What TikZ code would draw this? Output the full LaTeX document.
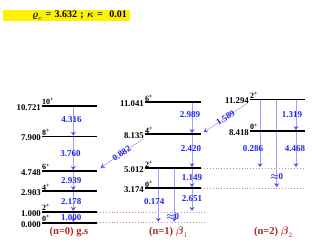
\documentclass[tikz,border=0pt]{standalone}
\usepackage{amsmath,amssymb}
\usepackage{fontspec}
\setmainfont{Liberation Serif}
\usetikzlibrary{arrows.meta,positioning}
\definecolor{LvlTrans}{HTML}{A0A0FF}
\definecolor{LvlHead}{HTML}{5050FF}
\definecolor{LvlText}{HTML}{2222EE}
\definecolor{LvlDot}{HTML}{C89090}
\definecolor{LvlBand}{HTML}{B22222}
\tikzset{
  lvl/.style={line width=1.8pt},
  lvlext/.style={LvlDot,line width=.6pt,dash pattern=on .7pt off 2.2pt},
  trans/.style={LvlTrans,line width=.6pt,shorten >=.9pt,
    -{Stealth[length=4pt,width=5pt,color=LvlHead]}},
  tlab/.style={LvlText,font=\fontsize{9}{10}\selectfont\bfseries,inner sep=0pt},
  elab/.style={anchor=east,font=\fontsize{8.8}{10}\selectfont\bfseries,
    inner sep=0pt,xshift=-1pt,yshift=-1.5pt},
  jlab/.style={anchor=south west,font=\fontsize{8}{9}\selectfont\bfseries,
    inner sep=0pt,yshift=.8pt},
  band/.style={LvlBand,font=\fontsize{10.5}{12}\selectfont\bfseries}
}

\begin{document}
\begin{tikzpicture}[x=1pt,y=10.9pt]
  \useasboundingbox (0,-2.505) rectangle (312,20.431);
  % title
  \node[fill=yellow,minimum height=11pt,text width=121pt,align=right,
    inner xsep=3pt,inner ysep=0pt,font=\fontsize{10}{11}\selectfont\bfseries]
    (head) at (66.5,19.0) {$\boldsymbol{\varrho}_c$ = 3.632 ;\ $\boldsymbol{\kappa}$ = \ 0.01};
  % ground band
  \foreach \n/\E in {0/0.000,2/1.000,4/2.903,6/4.748,8/7.900,10/10.721} {
    \coordinate (g\n) at (42,\E);
    \coordinate (g\n r) at (97,\E);
  }
  % beta_1 band
  \foreach \n/\E in {0/3.174,2/5.012,4/8.135,6/11.041} {
    \coordinate (b\n) at (145,\E);
    \coordinate (b\n r) at (201,\E);
  }
  % beta_2 band
  \foreach \n/\E in {0/8.418,2/11.294} {
    \coordinate (c\n) at (250,\E);
    \coordinate (c\n r) at (305,\E);
  }
  % dotted guides
  \coordinate (gx) at (205,0);
  \coordinate (bx) at (305,0);
  \draw[lvlext] (g2r) -- (gx |- g2r);
  \draw[lvlext] (g0r) -- (gx |- g0r);
  \draw[lvlext] (b2r) -- (bx |- b2r);
  \draw[lvlext] (b0r) -- (bx |- b0r);
  % arrow columns
  \coordinate (ag) at (73.3,0);
  \coordinate (ab) at (192,0);
  \coordinate (ab1) at (158.3,0);
  \coordinate (ab2) at (174.3,0);
  \coordinate (ac) at (296,0);
  \coordinate (ac1) at (260,0);
  \coordinate (ac2) at (276.7,0);
  % E2 transitions
  \draw[trans] (ag |- g10) -- node[tlab,pos=.46,xshift=-1.8pt] {4.316} (ag |- g8);
  \draw[trans] (ag |- g8) -- node[tlab,pos=.5,xshift=-2.8pt] {3.760} (ag |- g6);
  \draw[trans] (ag |- g6) -- node[tlab,pos=.5,xshift=-2pt] {2.939} (ag |- g4);
  \draw[trans] (ag |- g4) -- node[tlab,pos=.5,xshift=-2pt] {2.178} (ag |- g2);
  \draw[trans] (ag |- g2) -- node[tlab,pos=.5,xshift=-2pt] {1.000} (ag |- g0);
  \draw[trans] (ab |- b6) -- node[tlab,pos=.4,xshift=-2pt] {2.989} (ab |- b4);
  \draw[trans] (ab |- b4) -- node[tlab,pos=.44,xshift=-1pt] {2.420} (ab |- b2);
  \draw[trans] (ab |- b2) -- node[tlab,pos=.48] {1.149} (ab |- b0);
  \draw[trans] (ab |- b0) -- node[tlab,pos=.46] {2.651} (ab |- g2);
  \draw[trans] (ab1 |- b2) -- node[tlab,pos=.61,xshift=-4pt] {0.174} (ab1 |- g0);
  \draw[trans] (ab2 |- b2) -- node[tlab,pos=.89,xshift=-1.5pt] {$\boldsymbol{\approx}$0} (ab2 |- g0);
  \draw[trans] (ac |- c2) -- node[tlab,pos=.49,xshift=-4pt] {1.319} (ac |- c0);
  \draw[trans] (ac |- c0) -- node[tlab,pos=.47,xshift=-1pt] {4.468} (ac |- b2);
  \draw[trans] (ac1 |- c2) -- node[tlab,pos=.71,xshift=-7pt] {0.286} (ac1 |- b2);
  \draw[trans] (ac2 |- c2) -- node[tlab,pos=.87] {$\boldsymbol{\approx}$0} (ac2 |- b0);
  % interband
  \coordinate (d1s) at (143,7.68);
  \coordinate (d1e) at (100,4.99);
  \coordinate (d2s) at (248,11.0);
  \coordinate (d2e) at (203,8.25);
  \draw[trans] (d1s) -- node[tlab,sloped] {0.882} (d1e);
  \draw[trans] (d2s) -- node[tlab,sloped] {1.589} (d2e);
  % levels
  \foreach \n/\E in {0/0.000,2/1.000,4/2.903,6/4.748,8/7.900,10/10.721} {
    \draw[lvl] (g\n) -- (g\n r);
    \node[elab] (ge\n) at (g\n) {\E};
    \node[jlab] (gj\n) at (g\n) {\n\textsuperscript{+}};
  }
  \foreach \n/\E in {0/3.174,2/5.012,4/8.135,6/11.041} {
    \draw[lvl] (b\n) -- (b\n r);
    \node[elab] (be\n) at (b\n) {\E};
    \node[jlab] (bj\n) at (b\n) {\n\textsuperscript{+}};
  }
  \foreach \n/\E in {0/8.418,2/11.294} {
    \draw[lvl] (c\n) -- (c\n r);
    \node[elab] (ce\n) at (c\n) {\E};
    \node[jlab] (cj\n) at (c\n) {\n\textsuperscript{+}};
  }
  % band names
  \node[band] (n0) at (69,-.85) {(n=0) g.s};
  \node[band] (n1) at (168.5,-.85) {(n=1) $\boldsymbol{\beta}_1$};
  \node[band] (n2) at (273.5,-.85) {(n=2) $\boldsymbol{\beta}_2$};
\end{tikzpicture}
\end{document}
